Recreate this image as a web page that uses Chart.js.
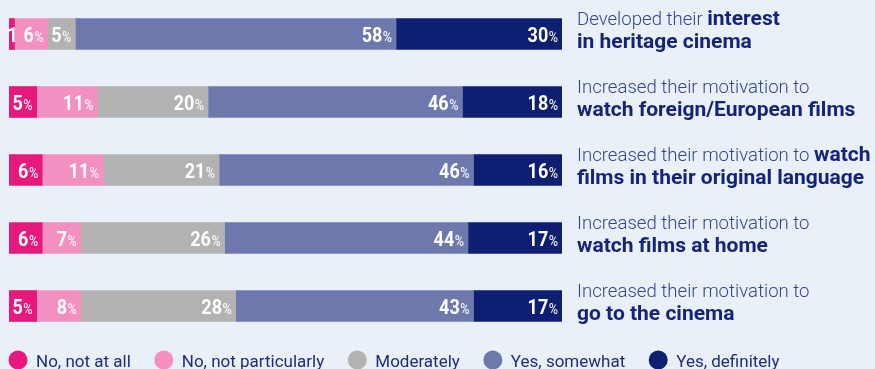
<!DOCTYPE html>
<html>
<head>
<meta charset="utf-8">
<script src="https://cdn.jsdelivr.net/npm/chart.js@4/dist/chart.umd.min.js"></script>
<style>
  html, body { margin: 0; padding: 0; background: #e9f0f8; }
  #wrap { width: 875px; height: 369px; position: relative; }
</style>
</head>
<body>
<div id="wrap"><canvas id="js_survey_chart"></canvas></div>
<script>
// categories, split into the light part and the bold part of each label
const categories = [
  'Developed their interest in heritage cinema',
  'Increased their motivation to watch foreign/European films',
  'Increased their motivation to watch films in their original language',
  'Increased their motivation to watch films at home',
  'Increased their motivation to go to the cinema'
]
const labelPlain = ['Developed their ', 'Increased their motivation to', 'Increased their motivation to ', 'Increased their motivation to', 'Increased their motivation to']
const labelBoldFirst = ['interest', '', 'watch', '', '']
const labelBoldSecond = ['in heritage cinema', 'watch foreign/European films', 'films in their original language', 'watch films at home', 'go to the cinema']

// series (percent)
const seriesNames = ['No, not at all', 'No, not particularly', 'Moderately', 'Yes, somewhat', 'Yes, definitely']
const notAtAll = [1, 5, 6, 6, 5]
const notParticularly = [6, 11, 11, 7, 8]
const moderately = [5, 20, 21, 26, 28]
const somewhat = [58, 46, 46, 44, 43]
const definitely = [30, 18, 16, 17, 17]
const seriesColors = ['#e8197d', '#f48fc1', '#b2b2b2', '#6d79ad', '#0e1f72']

const seriesValues = [notAtAll, notParticularly, moderately, somewhat, definitely]

// white numbers inside each segment, "%" smaller
const segmentLabels = {
  id: 'segmentLabels',
  afterDatasetsDraw(chart) {
    const ctx = chart.ctx
    const areaRight = chart.chartArea.right
    ctx.save()
    ctx.fillStyle = '#ffffff'
    ctx.textBaseline = 'alphabetic'
    chart.data.datasets.forEach((ds, di) => {
      const meta = chart.getDatasetMeta(di)
      meta.data.forEach((bar, i) => {
        const value = ds.data[i]
        const left = Math.min(bar.base, bar.x)
        const right = Math.min(Math.max(bar.base, bar.x), areaRight) // last row sums to 101
        const w = right - left
        const baseY = bar.y + 7.5
        const sx = 0.9
        ctx.font = 'bold 20px Roboto'
        const numW = ctx.measureText(String(value)).width * sx
        ctx.font = '500 14px Roboto'
        const pctW = ctx.measureText('%').width * sx
        if (w < 16) {
          ctx.save()
          ctx.translate((left + right) / 2 - numW / 2 + 1, baseY)
          ctx.scale(sx, 1)
          ctx.font = 'bold 20px Roboto'
          ctx.fillText(String(value), 0, 0)
          ctx.restore()
          return
        }
        const endX = right - 4
        const startX = endX - pctW - numW - 0.5
        ctx.save()
        ctx.translate(startX, baseY)
        ctx.scale(sx, 1)
        ctx.font = 'bold 20px Roboto'
        ctx.fillText(String(value), 0, 0)
        ctx.restore()
        ctx.save()
        ctx.translate(endX - pctW, baseY)
        ctx.scale(sx, 1)
        ctx.font = '500 14px Roboto'
        ctx.globalAlpha = 0.9
        ctx.fillText('%', 0, 0)
        ctx.restore()
      })
    })
    ctx.restore()
  }
}

// two-line category labels at the right, light + bold
const sideLabels = {
  id: 'sideLabels',
  afterDraw(chart) {
    const ctx = chart.ctx
    const yScale = chart.scales.y
    const x0 = chart.chartArea.right + 15
    ctx.save()
    ctx.textBaseline = 'alphabetic'
    categories.forEach((c, i) => {
      const cy = yScale.getPixelForValue(i)
      ctx.font = '300 18.6px Roboto'
      ctx.fillStyle = '#34448f'
      ctx.fillText(labelPlain[i], x0, cy - 9.5)
      const pw = ctx.measureText(labelPlain[i]).width
      ctx.font = 'bold 21px Roboto'
      ctx.fillStyle = '#14247a'
      if (labelBoldFirst[i]) ctx.fillText(labelBoldFirst[i], x0 + pw, cy - 9.5)
      ctx.fillText(labelBoldSecond[i], x0, cy + 14)
    })
    ctx.restore()
  }
}

// legend row with round markers
const roundLegend = {
  id: 'roundLegend',
  afterDraw(chart) {
    const ctx = chart.ctx
    ctx.save()
    ctx.font = '17px Roboto'
    ctx.textBaseline = 'alphabetic'
    let cx = 18
    chart.data.datasets.forEach((ds) => {
      ctx.fillStyle = ds.backgroundColor
      ctx.beginPath()
      ctx.arc(cx, 360, 9.5, 0, Math.PI * 2)
      ctx.fill()
      ctx.fillStyle = '#1e2c7c'
      ctx.fillText(ds.label, cx + 18, 367)
      cx += 18 + ctx.measureText(ds.label).width + 33
    })
    ctx.restore()
  }
}

function surveyChart() {
  const data = {
    labels: categories,
    datasets: seriesNames.map((name, k) => ({
      label: name,
      data: seriesValues[k],
      backgroundColor: seriesColors[k],
      borderWidth: 0,
      barThickness: 31
    }))
  }

  const options = {
    indexAxis: 'y',
    responsive: true,
    maintainAspectRatio: false,
    animation: false,
    layout: { padding: { left: 9, right: 313, top: 0, bottom: 29 } },
    scales: {
      x: { stacked: true, min: 0, max: 100, display: false },
      y: { stacked: true, display: false }
    },
    plugins: {
      legend: { display: false },
      tooltip: { enabled: false }
    }
  }

  const ctx = document.getElementById('js_survey_chart').getContext('2d')
  new Chart(ctx, { type: 'bar', data, options, plugins: [segmentLabels, sideLabels, roundLegend] })
}

surveyChart()
</script>
</body>
</html>
